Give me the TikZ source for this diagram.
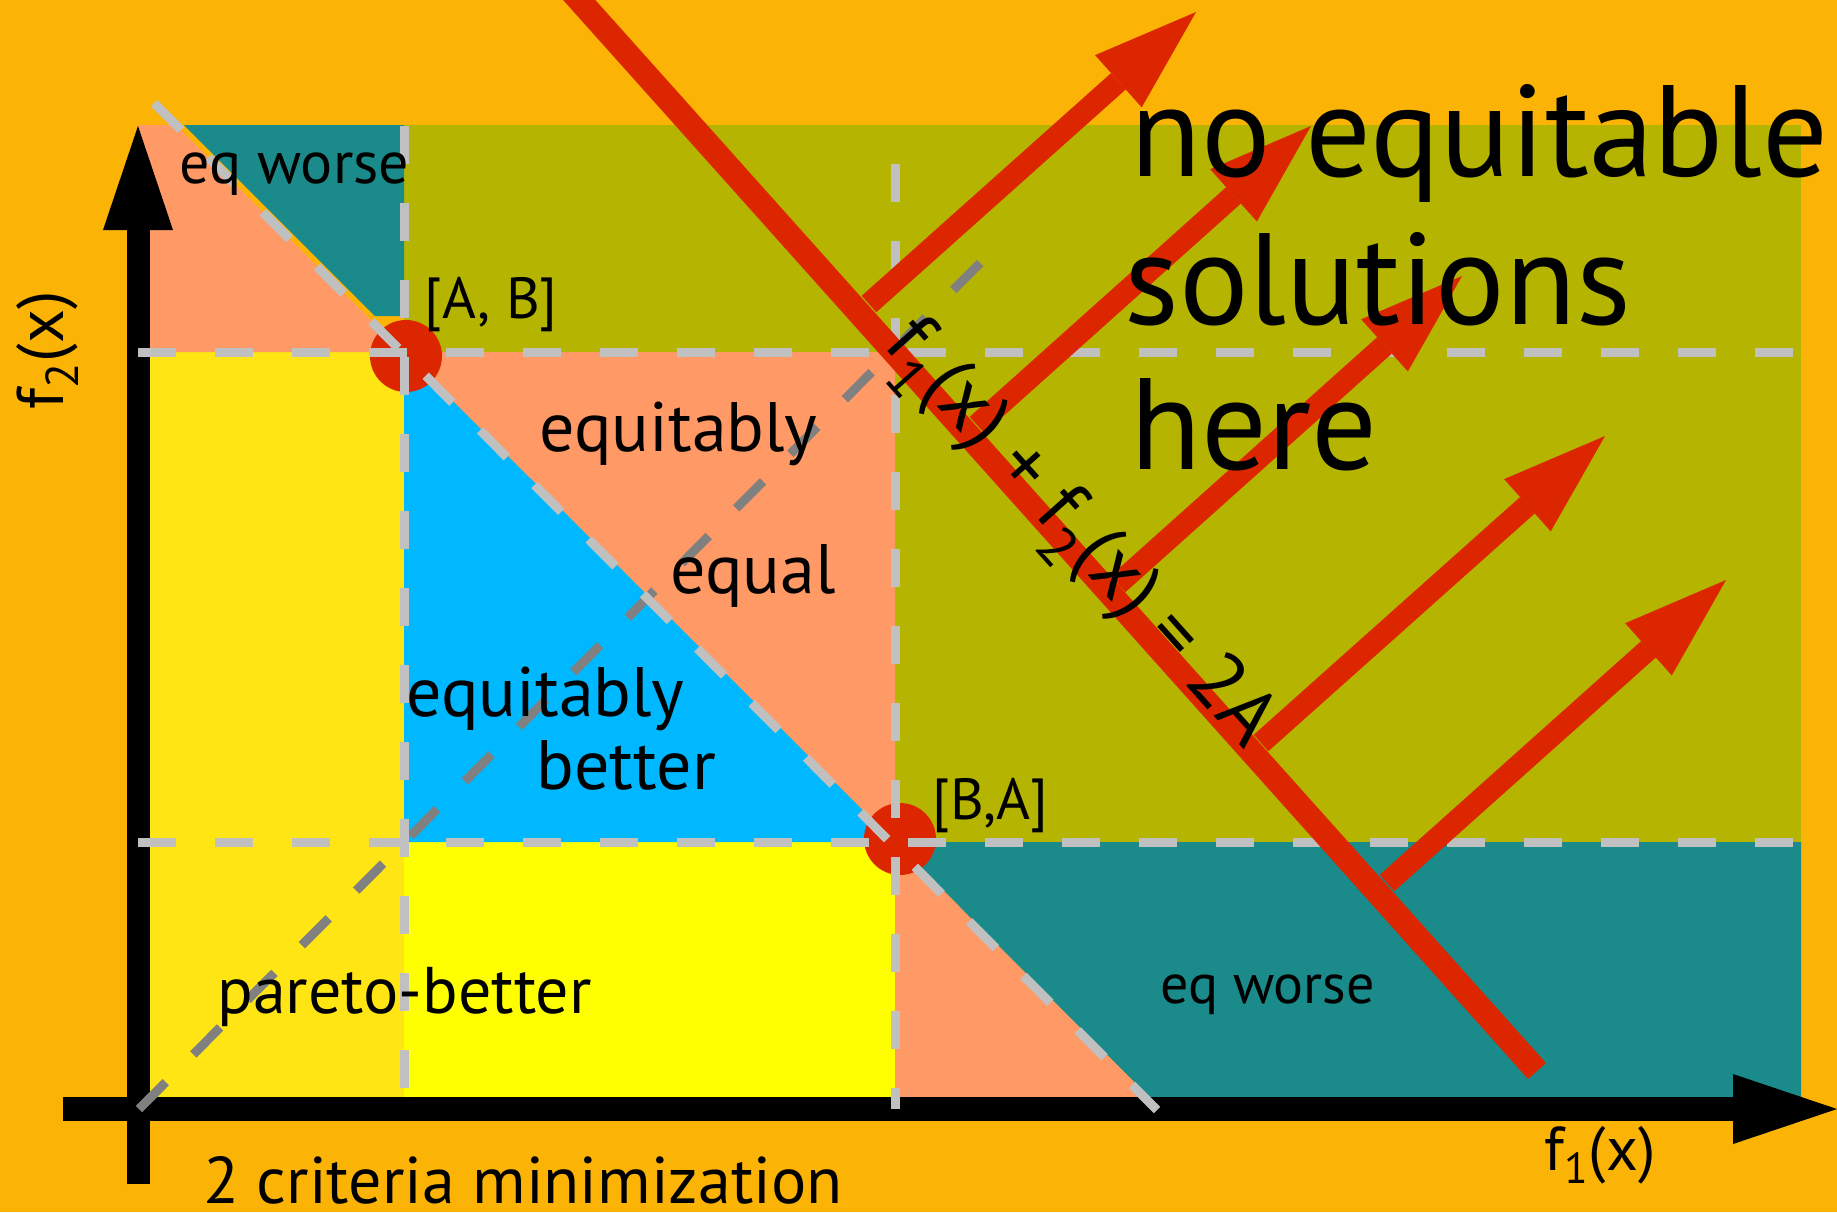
\documentclass[tikz,border=0pt]{standalone}
\usepackage{fontspec}
\setmainfont{PT Sans}
\usetikzlibrary{arrows.meta}
\definecolor{cBg}{HTML}{FBB306}
\definecolor{cOlive}{HTML}{B5B400}
\definecolor{cTeal}{HTML}{1A8A8A}
\definecolor{cSalmon}{HTML}{FF9966}
\definecolor{cBlue}{HTML}{00B8FF}
\definecolor{cYellow}{HTML}{FFFF00}
\definecolor{cGold}{HTML}{FFE513}
\definecolor{cRed}{HTML}{DC2600}
\definecolor{cLGray}{HTML}{C0C0C0}
\definecolor{cDGray}{HTML}{808080}
\newcommand\fsz[1]{\fontsize{#1}{#1}\selectfont}
\tikzset{
  lbl/.style={inner sep=0pt, anchor=base west, text=black},
  ldash/.style={draw=cLGray, line width=4.5pt, dash pattern=on 19pt off 19.5pt},
  ddash/.style={draw=cDGray, line width=4.5pt, dash pattern=on 19pt off 19.5pt},
  axisline/.style={draw=black, -{Triangle[length=52pt,width=35pt,line width=0pt]}},
  redarrow/.style={draw=cRed, line width=11pt, -{Triangle[length=52pt,width=35pt,line width=0pt]}},
  redline/.style={draw=cRed, line width=12pt},
  dot/.style={circle, fill=cRed, minimum size=36pt, inner sep=0pt},
}
\begin{document}
\begin{tikzpicture}[x=0.5pt,y=-0.5pt]
\useasboundingbox (0,0) rectangle (1837,1212);
\clip (0,0) rectangle (1837,1212);
\fill[cBg] (0,0) rectangle (1837,1212);
% regions
\fill[cOlive] (404,125) rectangle (1801,842);
\fill[cTeal] (895,842) -- (1801,842) -- (1801,1109) -- (1161,1109) -- cycle;
\fill[cSalmon] (895,842) -- (1161,1109) -- (895,1109) -- cycle;
\fill[cYellow] (404,842) rectangle (895,1109);
\fill[cGold] (138,352) rectangle (404,1109);
\fill[cBlue] (404,352) -- (895,842) -- (404,842) -- cycle;
\fill[cSalmon] (404,352) -- (895,352) -- (895,842) -- cycle;
\fill[cSalmon] (138,125) -- (176,125) -- (403,352) -- (138,352) -- cycle;
\fill[cTeal] (184,125) -- (404,125) -- (404,316) -- (375,316) -- cycle;
% points
\node[dot] (AB) at (406,356) {};
\node[dot] (BA) at (900,839) {};
% axes
\coordinate (yb) at (138,1184);
\coordinate (yt) at (138,126);
\coordinate (xl) at (63,1109);
\coordinate (xr) at (1837,1109);
\draw[axisline, line width=11.5pt] (yb) -- (yt);
\draw[axisline, line width=12pt] (xl) -- (xr);
% dashed guides
\draw[ddash] (139,1109) -- (1007,236);
\draw[ldash] (138,352) -- (1793,352);
\draw[ldash] (138,842) -- (1793,842);
\draw[ldash] (404,126) -- (404,1097);
\draw[ldash] (895,164) -- (895,1109);
\draw[ldash] (154,103) -- (1157,1110);
% red line and arrows
\coordinate (rtop) at (522,-64);
\coordinate (rbot) at (1537,1071);
\draw[redline] (rtop) -- (rbot);
\coordinate (t1) at (869,304);  \coordinate (h1) at (1196,12);
\coordinate (t2) at (977,425);  \coordinate (h2) at (1311,126);
\coordinate (t3) at (1118,584); \coordinate (h3) at (1462,276);
\coordinate (t4) at (1261,743); \coordinate (h4) at (1605,436);
\coordinate (t5) at (1387,883); \coordinate (h5) at (1726,580);
\draw[redarrow] (t1) -- (h1);
\draw[redarrow] (t2) -- (h2);
\draw[redarrow] (t3) -- (h3);
\draw[redarrow] (t4) -- (h4);
\draw[redarrow] (t5) -- (h5);
% labels
\node[lbl] (eqw1) at (179,183) {\fsz{30pt}eq worse};
\node[lbl] (abl) at (424,318) {\fsz{29pt}[A, B]};
\node[lbl] (eqa1) at (539,451) {\fsz{35pt}equitably};
\node[lbl] (eql) at (670,593) {\fsz{35pt}equal};
\node[lbl] (eqa2) at (406,716) {\fsz{35pt}equitably};
\node[lbl] (bet) at (536,789) {\fsz{35pt}better};
\node[lbl] (par) at (217,1013) {\fsz{33pt}pareto-better};
\node[lbl] (crit) at (203,1203) {\fsz{33pt}2 criteria minimization};
\node[lbl] (bal) at (932,819) {\fsz{29pt}[B,A]};
\node[lbl] (eqw2) at (1160,1003) {\fsz{28pt}eq worse};
\node[lbl] (f1) at (1544,1170) {\fsz{31pt}f\textsubscript{1}(x)};
\node[lbl, rotate=90] (f2) at (63,410) {\fsz{33pt}f\textsubscript{2}(x)};
\node[lbl] (no1) at (1130,176) {\fsz{65pt}no equitable};
\node[lbl] (no2) at (1124,324) {\fsz{65pt}solutions};
\node[lbl] (no3) at (1130,469) {\fsz{65pt}here};
\node[inner sep=0pt, anchor=mid west, rotate=-48.2] (eqn) at (886,342) {\fsz{40pt}f\textsubscript{1}(x) + f\textsubscript{2}(x) = 2A};
\end{tikzpicture}
\end{document}
